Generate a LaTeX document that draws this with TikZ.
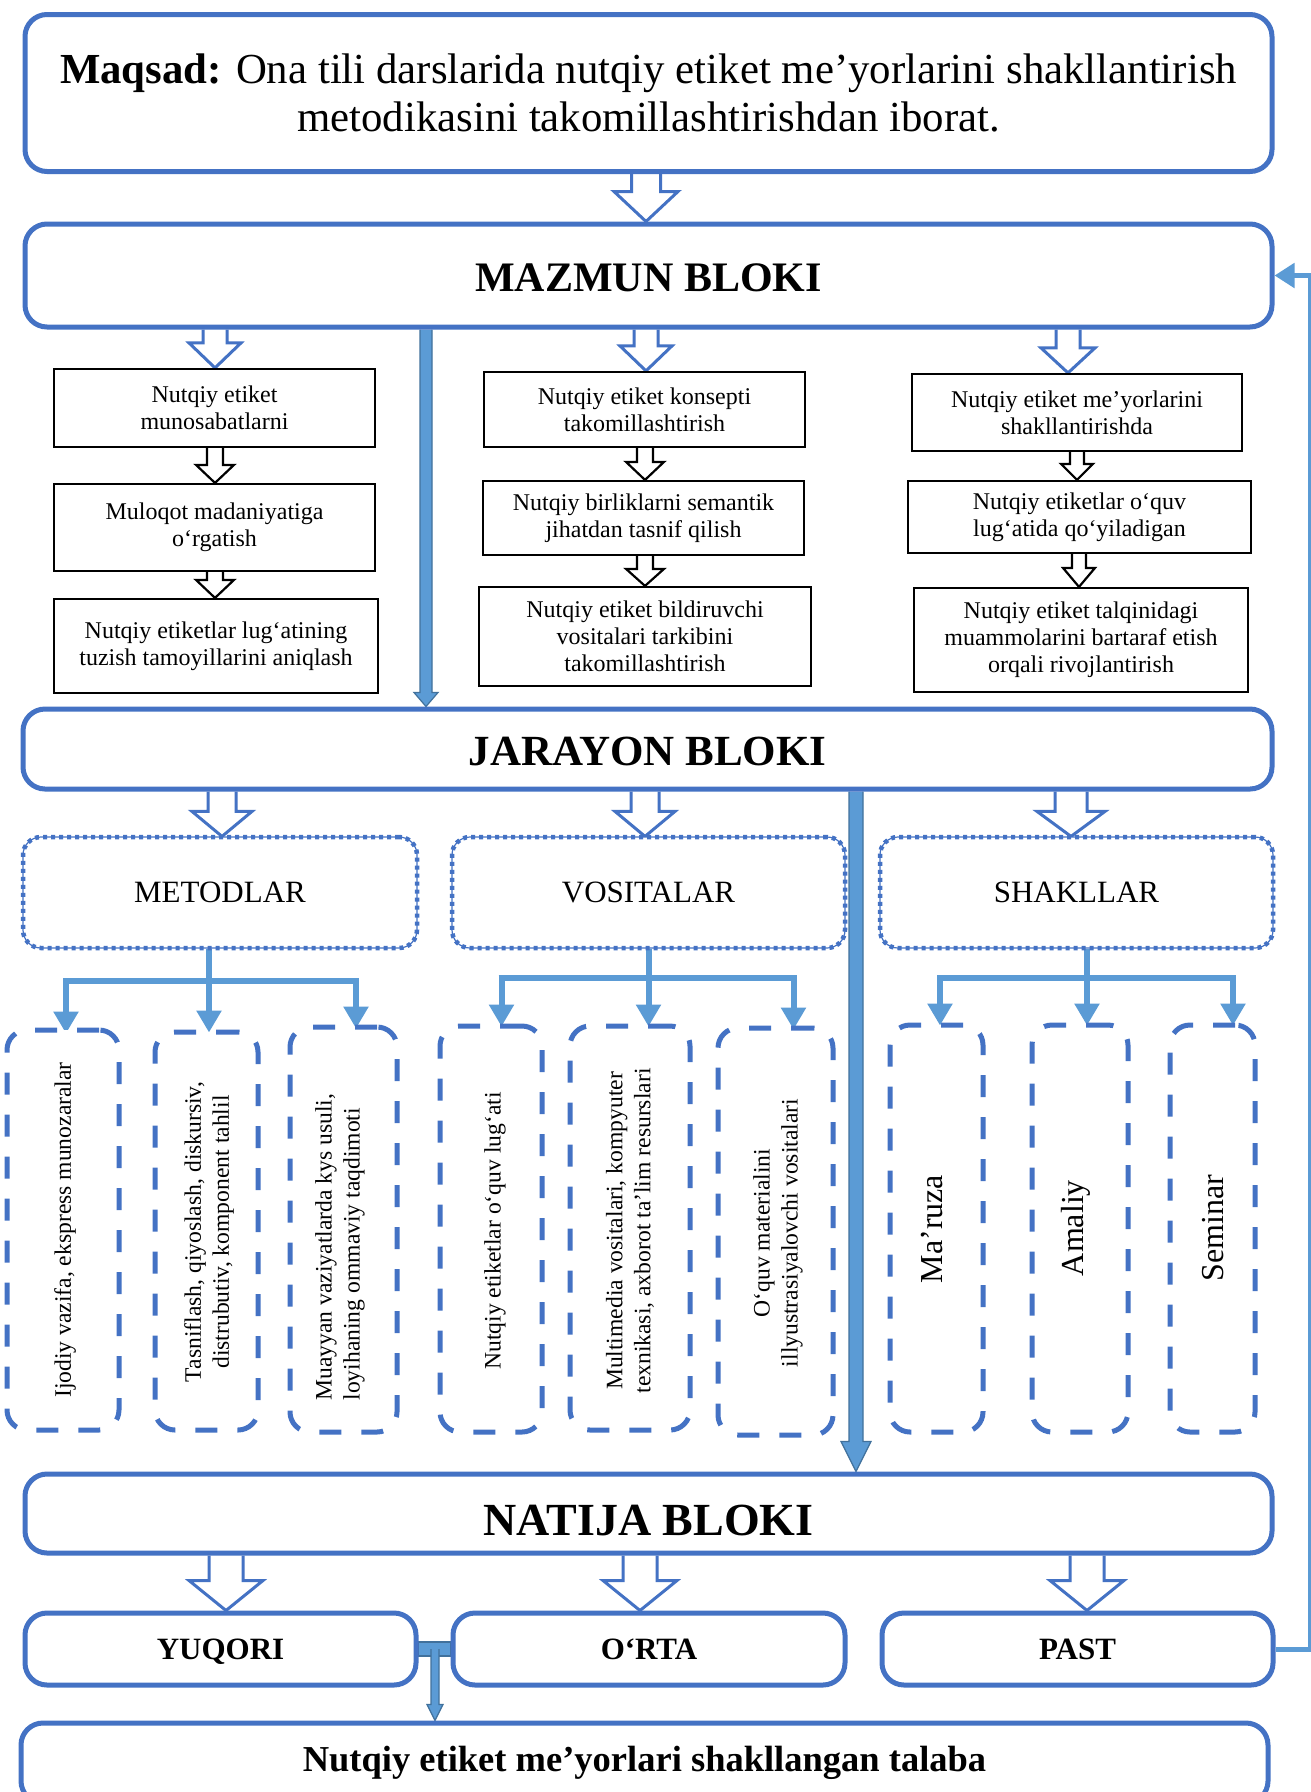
\documentclass[tikz,border=0pt]{standalone}
\usepackage{fontspec}
\setmainfont{Liberation Serif}
\usetikzlibrary{arrows.meta,calc}
\definecolor{bdr}{HTML}{4472C4}
\definecolor{lblue}{HTML}{5B9BD5}
\definecolor{dblue}{HTML}{41719C}
\pgfdeclarelayer{bg}
\pgfsetlayers{bg,main}
% #1 style, #2 x, #3 top anchor, #4 bottom anchor, #5 half shaft, #6 half head, #7 head length
\newcommand\blockarrow[7]{%
  \draw[#1] let \p1=(#3), \p2=(#4) in
  (#2pt-#5pt,\y1) -- (#2pt-#5pt,\y2+#7pt) -- (#2pt-#6pt,\y2+#7pt) -- (#2pt,\y2)
  -- (#2pt+#6pt,\y2+#7pt) -- (#2pt+#5pt,\y2+#7pt) -- (#2pt+#5pt,\y1);}
\begin{document}
\begin{tikzpicture}[x=1pt,y=-1pt,
  bigbox/.style={draw=bdr, line width=5pt, rounded corners=22pt, fill=white, inner sep=0pt, align=center},
  capc/.style={text height=#1, text depth=0pt},
  sbox/.style={draw=black, line width=2.2pt, fill=white, align=center, inner sep=0pt, font=\fontsize{24}{27}\selectfont},
  dotbox/.style={draw=bdr, line width=1.2pt, rounded corners=18pt, fill=white, font=\fontsize{31}{36}\selectfont,
     postaction={draw=bdr, line width=4.5pt, dash pattern=on 4pt off 4pt}},
  dashbox/.style={draw=bdr, line width=5pt, dash pattern=on 22pt off 20pt, rounded corners=20pt, fill=white},
  rtext/.style={rotate=90, align=center, inner sep=0pt, font=\fontsize{23.6}{28}\selectfont},
  rbig/.style={rotate=90, inner sep=0pt, font=\fontsize{32}{36}\selectfont},
  hollowb/.style={draw=bdr, line width=3pt, fill=white},
  hollowk/.style={draw=black, line width=2.2pt, fill=white},
  solidarr/.style={draw=dblue, line width=1.2pt, fill=lblue},
  branch/.style={draw=lblue, line width=6pt},
  brarrow/.style={draw=lblue, line width=6pt, -{Triangle[width=24pt,length=22pt]}},
  fbline/.style={draw=lblue, line width=5pt, -{Triangle[width=24pt,length=20pt]}}
]
\useasboundingbox (0,0) rectangle (1311,1792);
\clip (0,0) rectangle (1311,1792);

% main boxes
\node[bigbox, minimum width=1247pt, minimum height=157pt, font=\fontsize{42.8}{48}\selectfont] (maqsad) at (648.5,93)
  {\textbf{Maqsad:} Ona tili darslarida nutqiy etiket me’yorlarini shakllantirish\\metodikasini takomillashtirishdan iborat.};
\node[bigbox, capc=32pt, minimum width=1247pt, minimum height=103pt, font=\fontsize{42}{48}\bfseries] (mazmun) at (648.5,275.5) {MAZMUN BLOKI};
\node[bigbox, capc=32pt, minimum width=1249pt, minimum height=80pt, font=\fontsize{43}{48}\bfseries] (jarayon) at (647.5,749) {JARAYON BLOKI};
\node[bigbox, capc=43pt, minimum width=1247pt, minimum height=79pt, font=\fontsize{46}{50}\bfseries] (natija) at (648.5,1513.5) {NATIJA BLOKI};
\node[bigbox, capc=20.5pt, minimum width=391pt, minimum height=72pt, font=\fontsize{31}{36}\bfseries] (yuqori) at (220.5,1649) {YUQORI};
\node[bigbox, capc=20.5pt, minimum width=392pt, minimum height=72pt, font=\fontsize{31}{36}\bfseries] (orta) at (649,1649) {O‘RTA};
\node[bigbox, capc=20.5pt, minimum width=391pt, minimum height=72pt, font=\fontsize{31}{36}\bfseries] (past) at (1077.5,1649) {PAST};
\node[bigbox, minimum width=1247pt, minimum height=80pt, font=\fontsize{36.5}{40}\bfseries] (talaba) at (644.5,1763) {Nutqiy etiket me’yorlari shakllangan talaba};

% content columns
\node[sbox, minimum width=321pt, minimum height=78pt] (l1) at (214.5,408) {Nutqiy etiket\\munosabatlarni};
\node[sbox, minimum width=321pt, minimum height=87pt] (l2) at (214.5,527.5) {Muloqot madaniyatiga\\o‘rgatish};
\node[sbox, minimum width=324pt, minimum height=94pt] (l3) at (216,646) {Nutqiy etiketlar lug‘atining\\tuzish tamoyillarini aniqlash};
\node[sbox, minimum width=321pt, minimum height=75pt] (m1) at (644.5,409.5) {Nutqiy etiket konsepti\\takomillashtirish};
\node[sbox, minimum width=321pt, minimum height=74pt] (m2) at (643.5,518) {Nutqiy birliklarni semantik\\jihatdan tasnif qilish};
\node[sbox, minimum width=332pt, minimum height=99pt] (m3) at (645,636.5) {Nutqiy etiket bildiruvchi\\vositalari tarkibini\\takomillashtirish};
\node[sbox, minimum width=330pt, minimum height=77pt] (r1) at (1077,412.5) {Nutqiy etiket me’yorlarini\\shakllantirishda};
\node[sbox, minimum width=343pt, minimum height=72pt] (r2) at (1079.5,517) {Nutqiy etiketlar o‘quv\\lug‘atida qo‘yiladigan};
\node[sbox, minimum width=334pt, minimum height=104pt] (r3) at (1081,640) {Nutqiy etiket talqinidagi\\muammolarini bartaraf etish\\orqali rivojlantirish};

% dotted boxes
\node[dotbox, minimum width=394pt, minimum height=111pt] (metod) at (220,892.5) {METODLAR};
\node[dotbox, minimum width=393pt, minimum height=111pt] (vosit) at (648.5,892.5) {VOSITALAR};
\node[dotbox, minimum width=393pt, minimum height=111pt] (shakl) at (1076.5,892.5) {SHAKLLAR};

% dashed boxes
\node[dashbox, minimum width=112pt, minimum height=400pt] (d1) at (63,1230) {};
\node[dashbox, minimum width=103pt, minimum height=398pt] (d2) at (206.5,1231) {};
\node[dashbox, minimum width=107pt, minimum height=405pt] (d3) at (343.5,1229.5) {};
\node[dashbox, minimum width=102pt, minimum height=406pt] (d4) at (491,1229) {};
\node[dashbox, minimum width=120pt, minimum height=404pt] (d5) at (630,1228) {};
\node[dashbox, minimum width=115pt, minimum height=407pt] (d6) at (775.5,1231.5) {};
\node[dashbox, minimum width=93pt, minimum height=407pt] (d7) at (936.5,1228.5) {};
\node[dashbox, minimum width=96pt, minimum height=407pt] (d8) at (1080,1228.5) {};
\node[dashbox, minimum width=85pt, minimum height=407pt] (d9) at (1212.5,1228.5) {};

\node[rtext] (t1) at (65,1230) {Ijodiy vazifa, ekspress munozaralar};
\node[rtext] (t2) at (209,1232) {Tasniflash, qiyoslash, diskursiv,\\distrubutiv, komponent tahlil};
\node[rtext, align=left] (t3) at (340,1247) {Muayyan vaziyatlarda kys usuli,\\loyihaning ommaviy taqdimoti};
\node[rtext] (t4) at (495,1231) {Nutqiy etiketlar o‘quv lug‘ati};
\node[rtext] (t5) at (630,1231) {Multimedia vositalari, kompyuter\\texnikasi, axborot ta’lim resurslari};
\node[rtext] (t6) at (778,1233) {O‘quv materialini\\illyustrasiyalovchi vositalari};
\node[rbig] (t7) at (932,1229) {Ma’ruza};
\node[rbig] (t8) at (1076,1228) {Amaliy};
\node[rbig] (t9) at (1213,1228) {Seminar};

\begin{pgfonlayer}{bg}
\fill[white] (0,0) rectangle (1311,1792);
% hollow blue block arrows
\blockarrow{hollowb}{646}{maqsad.south}{mazmun.north}{14.5}{32}{30}
\blockarrow{hollowb}{215}{mazmun.south}{l1.north}{12}{26}{25}
\blockarrow{hollowb}{646}{mazmun.south}{m1.north}{12}{26}{25}
\blockarrow{hollowb}{1068}{mazmun.south}{r1.north}{12}{27}{25}
\blockarrow{hollowb}{222}{jarayon.south}{metod.north}{14}{30}{25}
\blockarrow{hollowb}{645}{jarayon.south}{vosit.north}{14}{30}{25}
\blockarrow{hollowb}{1071}{jarayon.south}{shakl.north}{16}{34}{25}
\blockarrow{hollowb}{226}{natija.south}{yuqori.north}{17}{37}{30}
\blockarrow{hollowb}{640}{natija.south}{orta.north}{17}{37}{30}
\blockarrow{hollowb}{1087}{natija.south}{past.north}{17}{37}{30}
% black hollow arrows
\blockarrow{hollowk}{215}{l1.south}{l2.north}{8}{19}{18}
\blockarrow{hollowk}{215}{l2.south}{l3.north}{8}{19}{18}
\blockarrow{hollowk}{645}{m1.south}{m2.north}{8}{19}{18}
\blockarrow{hollowk}{645}{m2.south}{m3.north}{8}{19}{17}
\blockarrow{hollowk}{1077}{r1.south}{r2.north}{7}{16}{16}
\blockarrow{hollowk}{1079}{r2.south}{r3.north}{7}{16}{19}
% thick solid arrows
\blockarrow{solidarr}{426}{mazmun.south}{jarayon.north}{6}{12}{14}
\blockarrow{solidarr}{856}{jarayon.south}{natija.north}{7}{15}{30}
% branches
\draw[branch] ([xshift=-11pt]metod.south) -- ++(0,32) coordinate (mj);
\coordinate (ma) at ($(mj)+(-143,0)$);
\coordinate (mc) at ($(mj)+(147,0)$);
\draw[branch] ([xshift=-3pt]ma) -- ([xshift=3pt]mc);
\draw[brarrow] (ma) -- ([yshift=-6pt]ma |- d1.north);
\draw[brarrow] (mj) -- ([yshift=-3pt]mj |- d2.north);
\draw[brarrow] (mc) -- ([yshift=-4pt]mc |- d3.north);

\draw[branch] (vosit.south) -- ++(0,29) coordinate (vj);
\coordinate (va) at ($(vj)+(-147,0)$);
\coordinate (vc) at ($(vj)+(145,0)$);
\draw[branch] ([xshift=-3pt]va) -- ([xshift=3pt]vc);
\draw[brarrow] (va) -- ([yshift=-3pt]va |- d4.north);
\draw[brarrow] (vj) -- ([yshift=-3pt]vj |- d5.north);
\draw[brarrow] (vc) -- ([yshift=-4pt]vc |- d6.north);

\draw[branch] ([xshift=10.5pt]shakl.south) -- ++(0,29) coordinate (sj);
\coordinate (sa) at ($(sj)+(-147,0)$);
\coordinate (sc) at ($(sj)+(146,0)$);
\draw[branch] ([xshift=-3pt]sa) -- ([xshift=3pt]sc);
\draw[brarrow] (sa) -- ([yshift=-3pt]sa |- d7.north);
\draw[brarrow] (sj) -- ([yshift=-3pt]sj |- d8.north);
\draw[brarrow] (sc) -- ([yshift=-3pt]sc |- d9.north);

% feedback
\draw[fbline] (past.east) -- ++(35,0) |- (mazmun.east);
% yuqori-orta connector
\draw[solidarr] ($(yuqori.east)+(0,-7)$) rectangle ($(orta.west)+(0,7)$);
\blockarrow{solidarr}{435}{yuqori.east}{talaba.north}{4}{8}{16}
\end{pgfonlayer}
\end{tikzpicture}
\end{document}
